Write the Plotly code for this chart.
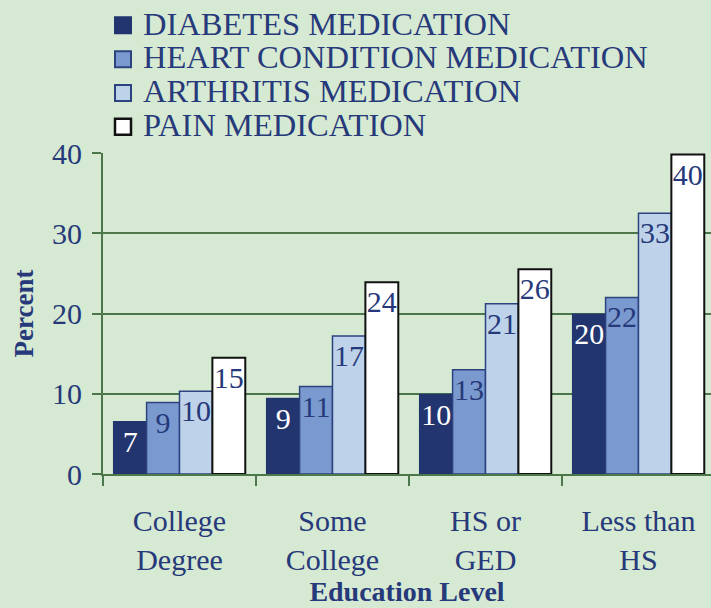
import plotly.graph_objects as go

categories = ["College<br>Degree", "Some<br>College", "HS or<br>GED", "Less than<br>HS"]
series_names = ["DIABETES MEDICATION", "HEART CONDITION MEDICATION",
                "ARTHRITIS MEDICATION", "PAIN MEDICATION"]
diabetes = [6.5, 9.4, 9.9, 19.9]
heart = [8.9, 10.9, 13.0, 22.0]
arthritis = [10.3, 17.2, 21.2, 32.5]
pain = [14.5, 23.9, 25.5, 39.8]
labels = [[7, 9, 10, 20], [9, 11, 13, 22], [10, 17, 21, 33], [15, 24, 26, 40]]
y_ticks = [0, 10, 20, 30, 40]

NAVY = "#22356f"
TEXT = "#26397a"
GRID = "#4b774b"
BG = "#d6e9d2"
FONT = "Liberation Serif"

fills = [NAVY, "#7a9acf", "#bed3ea", "#ffffff"]
borders = [NAVY, "#2c4380", "#2c4380", "#111111"]
bwidths = [1.5, 1.5, 1.5, 2]
label_colors = ["#ffffff", TEXT, TEXT, TEXT]
values = [diabetes, heart, arthritis, pain]

fig = go.Figure()
for i in range(4):
    fig.add_trace(go.Bar(
        x=categories, y=values[i], name=series_names[i], showlegend=False,
        marker=dict(color=fills[i], line=dict(color=borders[i], width=bwidths[i])),
        text=[str(v) for v in labels[i]], textposition="inside",
        insidetextanchor="end", textangle=0,
        textfont=dict(family=FONT, size=30, color=label_colors[i]),
        hoverinfo="skip",
    ))
# legend proxies
for i in range(4):
    fig.add_trace(go.Scatter(
        x=[None], y=[None], mode="markers",
        name=f'<span style="font-size:32.5px">{series_names[i]}</span>',
        marker=dict(symbol="square", size=20, color=fills[i],
                    line=dict(color=borders[i], width=bwidths[i] + 0.5)),
    ))

fig.update_layout(
    width=711, height=608,
    margin=dict(l=103, r=0, t=153, b=134),
    paper_bgcolor=BG, plot_bgcolor=BG,
    barmode="group", bargap=0.14, bargroupgap=0,
    uniformtext=dict(mode="show", minsize=30),
    font=dict(family=FONT, color=TEXT, size=30),
    legend=dict(x=0.0, y=1.466, xanchor="left", yanchor="top",
                bgcolor="rgba(0,0,0,0)", font=dict(family=FONT, size=23.7, color=TEXT),
                itemsizing="trace", tracegroupgap=0),
    showlegend=True,
)
fig.update_xaxes(
    range=[-0.5, 3.474], showline=True, linecolor=GRID, linewidth=2,
    ticks="outside", tickson="boundaries", ticklen=10, tickcolor=GRID, tickwidth=1.5,
    tickfont=dict(family=FONT, size=30, color=TEXT), ticklabelstandoff=19,
    showgrid=False, zeroline=False,
    title=dict(text="<b>Education Level</b>", font=dict(family=FONT, size=28, color=TEXT), standoff=3),
)
fig.update_yaxes(
    range=[0, 40], tickvals=y_ticks, showline=True, linecolor=GRID, linewidth=2,
    ticks="outside", ticklen=9, tickcolor=GRID, tickwidth=2,
    showgrid=True, gridcolor=GRID, gridwidth=2, zeroline=False,
    tickfont=dict(family=FONT, size=30, color=TEXT), ticklabelstandoff=4,
    title=dict(text="<b>Percent</b>", font=dict(family=FONT, size=27, color=TEXT), standoff=11),
)
fig.write_html("out.html", config={"displayModeBar": False},
               post_script="document.body.style.margin='0';document.body.style.overflow='hidden';")
